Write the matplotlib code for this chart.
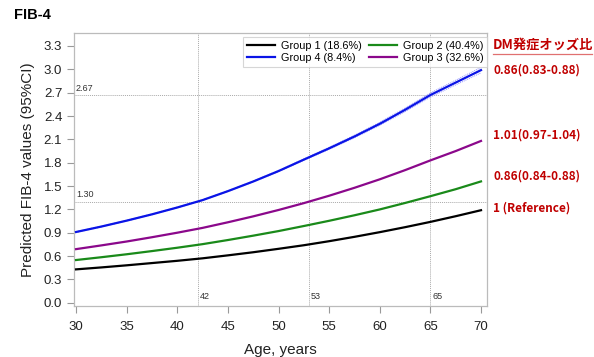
import matplotlib
matplotlib.use("Agg")
import matplotlib.pyplot as plt
from matplotlib.lines import Line2D

plt.rcParams['font.family'] = ['Liberation Sans', 'Noto Sans CJK JP', 'DejaVu Sans']

# data
age = [30, 32.5, 35, 37.5, 40, 42.5, 45, 47.5, 50, 52.5, 55, 57.5, 60, 62.5, 65, 67.5, 70]
g1 = [0.43, 0.455, 0.482, 0.511, 0.54, 0.572, 0.61, 0.65, 0.694, 0.74, 0.792, 0.848, 0.908, 0.972, 1.04, 1.113, 1.19]
g2 = [0.55, 0.586, 0.624, 0.665, 0.708, 0.754, 0.807, 0.863, 0.922, 0.987, 1.054, 1.125, 1.20, 1.283, 1.37, 1.46, 1.56]
g3 = [0.69, 0.738, 0.788, 0.843, 0.901, 0.963, 1.035, 1.111, 1.193, 1.281, 1.376, 1.478, 1.587, 1.705, 1.83, 1.95, 2.08]
g4 = [0.91, 0.98, 1.056, 1.137, 1.225, 1.32, 1.435, 1.559, 1.693, 1.84, 1.985, 2.137, 2.30, 2.48, 2.67, 2.83, 2.99]
g4_lo = [0.905, 0.975, 1.051, 1.132, 1.22, 1.315, 1.43, 1.553, 1.685, 1.83, 1.972, 2.121, 2.281, 2.457, 2.643, 2.80, 2.955]
g4_hi = [0.915, 0.985, 1.061, 1.142, 1.23, 1.325, 1.44, 1.565, 1.701, 1.85, 1.998, 2.153, 2.319, 2.503, 2.697, 2.86, 3.025]

cutoffs_y = [2.67, 1.30]
cutoffs_x = [42, 53, 65]
or_labels = ['0.86(0.83-0.88)', '1.01(0.97-1.04)', '0.86(0.84-0.88)', '1 (Reference)']
or_ypix = [70, 135, 176, 208]

fig = plt.figure(figsize=(5.94, 3.57), dpi=100)
ax = fig.add_axes([0.1246, 0.143, 0.6954, 0.7646])

for v in cutoffs_y:
    ax.axhline(v, color='#aaaaaa', lw=0.7, ls=(0, (1, 1)), zorder=1)
    ax.text(30.0, v + 0.03, '%.2f' % v, fontsize=6.5, color='#333333', va='bottom', ha='left')
for v in cutoffs_x:
    ax.axvline(v, color='#aaaaaa', lw=0.7, ls=(0, (1, 1)), zorder=1)
    ax.text(v + 0.2, 0.03, str(v), fontsize=6.5, color='#333333', va='bottom', ha='left')

ax.plot(age, g4_lo, color='#8f8fff', lw=0.7, ls=(0, (1, 1)), zorder=2)
ax.plot(age, g4_hi, color='#8f8fff', lw=0.7, ls=(0, (1, 1)), zorder=2)
l1, = ax.plot(age, g1, color='black', lw=1.6, label='Group 1 (18.6%)', zorder=3)
l2, = ax.plot(age, g2, color='#1a8a1a', lw=1.6, label='Group 2 (40.4%)', zorder=3)
l3, = ax.plot(age, g3, color='#8b088b', lw=1.6, label='Group 3 (32.6%)', zorder=3)
l4, = ax.plot(age, g4, color='#0a14e6', lw=1.6, label='Group 4 (8.4%)', zorder=3)

ax.set_xlim(29.8, 70.6)
ax.set_ylim(-0.04, 3.467)
ax.set_xticks(range(30, 71, 5))
ax.set_yticks([i * 0.3 for i in range(12)])
ax.set_yticklabels(['%.1f' % (i * 0.3) for i in range(12)])
for s in ax.spines.values():
    s.set_color('#bbbbbb')
    s.set_linewidth(0.9)
ax.tick_params(colors='#999999', labelcolor='#222222', labelsize=9.5, length=5, width=0.8)
ax.tick_params(axis='x', pad=6)

ax.set_ylabel('Predicted FIB-4 values (95%CI)', fontsize=11, color='#222222', labelpad=6)
ax.set_xlabel('Age, years', fontsize=11, color='#222222', labelpad=7)

leg = ax.legend(handles=[l1, l4, l2, l3], ncol=2, fontsize=7.8, loc='upper right',
                bbox_to_anchor=(1.0, 0.985), frameon=True, fancybox=False,
                handlelength=2.6, columnspacing=0.7, borderpad=0.35, labelspacing=0.2,
                handletextpad=0.5, borderaxespad=0.0)
leg.get_frame().set_edgecolor('#cccccc')
leg.get_frame().set_linewidth(0.8)

fig.text(14 / 594, 1 - 15 / 357, 'FIB-4', fontsize=10.5, fontweight='bold', va='center', ha='left')

red = '#c00000'
fig.text(493 / 594, 1 - 45 / 357, 'DM発症オッズ比', fontsize=9.5, fontweight='bold',
         color=red, va='center', ha='left', family=['Noto Sans CJK JP', 'DejaVu Sans'])
fig.add_artist(Line2D([493 / 594, 592 / 594], [1 - 54 / 357, 1 - 54 / 357],
                      color='#e07070', lw=0.9, transform=fig.transFigure))
for lab, yp in zip(or_labels, or_ypix):
    fig.text(493 / 594, 1 - yp / 357, lab, fontsize=8.5, fontweight='bold', color=red,
             va='center', ha='left', family=['Noto Sans CJK JP', 'DejaVu Sans'])

fig.savefig('out.png', dpi=100)
